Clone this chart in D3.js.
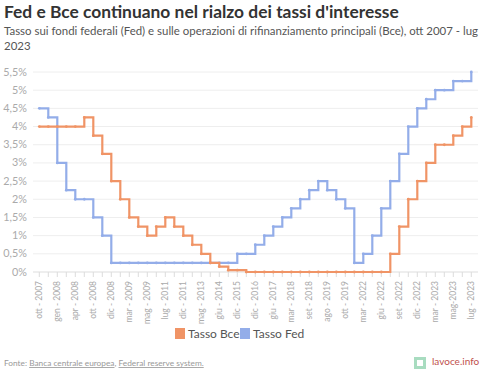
<!DOCTYPE html>
<html>
<head>
<meta charset="utf-8">
<script src="https://cdn.jsdelivr.net/npm/d3@7"></script>
<style>
  body { margin: 0; background: #fff; }
  svg { display: block; font-family: "Source Sans Pro", Lato, sans-serif; }
</style>
</head>
<body>
<div id="my_dataviz"></div>
<script>
// date degli interventi (solo quelle pari hanno l'etichetta sull'asse)
var dates = ["ott - 2007","dic - 2007","gen - 2008","mar - 2008","apr - 2008","lug - 2008","ott - 2008","nov - 2008",
    "dic - 2008","gen - 2009","mar - 2009","apr - 2009","mag - 2009","apr - 2011","lug - 2011","nov - 2011",
    "dic - 2011","lug - 2012","mag - 2013","nov - 2013","giu - 2014","set - 2014","dic - 2015","mar - 2016",
    "dic - 2016","mar - 2017","giu - 2017","dic - 2017","mar - 2018","giu - 2018","set - 2018","dic - 2018",
    "ago - 2019","set - 2019","ott - 2019","mar - 2020","mar - 2022","mag - 2022","giu - 2022","lug - 2022",
    "set - 2022","nov - 2022","dic - 2022","feb - 2023","mar - 2023","apr - 2023","mag-2023","giu - 2023","lug - 2023"];

var bce = [4,4,4,4,4,4.25,3.75,3.25,2.5,2,1.5,1.25,1,1.25,1.5,1.25,1,0.75,0.5,0.25,0.15,0.05,0.05,0,
    0,0,0,0,0,0,0,0,0,0,0,0,0,0,0,0.5,1.25,2,2.5,3,3.5,3.5,3.75,4,4.25];

var fed = [4.5,4.25,3,2.25,2,2,1.5,1,0.25,0.25,0.25,0.25,0.25,0.25,0.25,0.25,0.25,0.25,0.25,0.25,0.25,0.25,0.5,0.5,
    0.75,1,1.25,1.5,1.75,2,2.25,2.5,2.25,2,1.75,0.25,0.5,1,1.75,2.5,3.25,4,4.5,4.75,5,5,5.25,5.25,5.5];

var yTicks = [0,0.5,1,1.5,2,2.5,3,3.5,4,4.5,5,5.5];

var width = 500,
    height = 374,
    colBce = "#f09466",
    colFed = "#93ade9";

var svg = d3.select("#my_dataviz")
    .append("svg")
    .attr("width", width)
    .attr("height", height);

// titolo e sottotitolo
svg.append("text")
    .attr("x", 4).attr("y", 18)
    .attr("font-size", 17.4).attr("font-weight", "bold").attr("fill", "#333")
    .text("Fed e Bce continuano nel rialzo dei tassi d'interesse");
svg.append("text")
    .attr("x", 4).attr("y", 35)
    .attr("font-size", 11.45).attr("fill", "#555")
    .text("Tasso sui fondi federali (Fed) e sulle operazioni di rifinanziamento principali (Bce), ott 2007 - lug");
svg.append("text")
    .attr("x", 4).attr("y", 50)
    .attr("font-size", 11.45).attr("fill", "#555")
    .text("2023");

var x = d3.scalePoint()
    .domain(d3.range(dates.length))
    .range([39.3, 471.3]);

var y = d3.scaleLinear()
    .domain([0, 5.5])
    .range([272, 72]);

// griglia + etichette asse y
var grid = svg.append("g");
grid.selectAll("line")
    .data(yTicks)
    .join("line")
    .attr("x1", 33).attr("x2", 478)
    .attr("y1", function(d) { return y(d); })
    .attr("y2", function(d) { return y(d); })
    .attr("stroke", function(d) { return d == 0 ? "#ddd" : "#eee"; })
    .attr("stroke-width", 1);
grid.selectAll("text")
    .data(yTicks)
    .join("text")
    .attr("x", 27)
    .attr("y", function(d) { return y(d) + 3.5; })
    .attr("text-anchor", "end")
    .attr("font-size", 10.8)
    .attr("fill", "#aaa")
    .text(function(d) { return String(d).replace(".", ",") + "%"; });

// asse x: tacche per ogni data, etichette una sì e una no
var xAxis = svg.append("g");
xAxis.selectAll("line")
    .data(d3.range(dates.length))
    .join("line")
    .attr("x1", function(d) { return x(d); })
    .attr("x2", function(d) { return x(d); })
    .attr("y1", 272).attr("y2", 277)
    .attr("stroke", "#ddd");
xAxis.selectAll("text")
    .data(d3.range(0, dates.length, 2))
    .join("text")
    .attr("transform", function(d) { return "translate(" + (x(d) + 3) + ",281) rotate(-90)"; })
    .attr("text-anchor", "end")
    .attr("font-size", 8.5)
    .attr("fill", "#aaa")
    .text(function(d) { return dates[d]; });

function drawSeries(values, color) {
    var g = svg.append("g");
    g.append("path")
        .datum(values)
        .attr("fill", "none")
        .attr("stroke", color)
        .attr("stroke-width", 2.2)
        .attr("d", d3.line()
            .curve(d3.curveStepAfter)
            .x(function(d, i) { return x(i); })
            .y(function(d) { return y(d); }));
    g.selectAll("circle")
        .data(values)
        .join("circle")
        .attr("cx", function(d, i) { return x(i); })
        .attr("cy", function(d) { return y(d); })
        .attr("r", 1.4)
        .attr("fill", color);
}
drawSeries(fed, colFed);
drawSeries(bce, colBce);

// legenda
var legend = svg.append("g");
var items = [{name: "Tasso Bce", color: colBce, x: 175}, {name: "Tasso Fed", color: colFed, x: 240}];
items.forEach(function(it) {
    legend.append("rect")
        .attr("x", it.x).attr("y", 328)
        .attr("width", 10).attr("height", 11)
        .attr("fill", it.color);
    legend.append("text")
        .attr("x", it.x + 13).attr("y", 338)
        .attr("font-size", 12).attr("fill", "#555")
        .text(it.name);
});

// fonte
var src = svg.append("text")
    .attr("x", 4).attr("y", 366)
    .attr("font-size", 8.3).attr("fill", "#999");
src.append("tspan").text("Fonte: ");
src.append("tspan").attr("text-decoration", "underline").text("Banca centrale europea");
src.append("tspan").text(", ");
src.append("tspan").attr("text-decoration", "underline").text("Federal reserve system.");

// logo
svg.append("rect")
    .attr("x", 414).attr("y", 357).attr("width", 12).attr("height", 12)
    .attr("fill", "#a8dcc0");
svg.append("rect")
    .attr("x", 417).attr("y", 360).attr("width", 6).attr("height", 6)
    .attr("fill", "#fff");
svg.append("text")
    .attr("x", 432).attr("y", 365)
    .attr("font-size", 10).attr("fill", "#c0504d")
    .text("lavoce.info");
</script>
</body>
</html>
